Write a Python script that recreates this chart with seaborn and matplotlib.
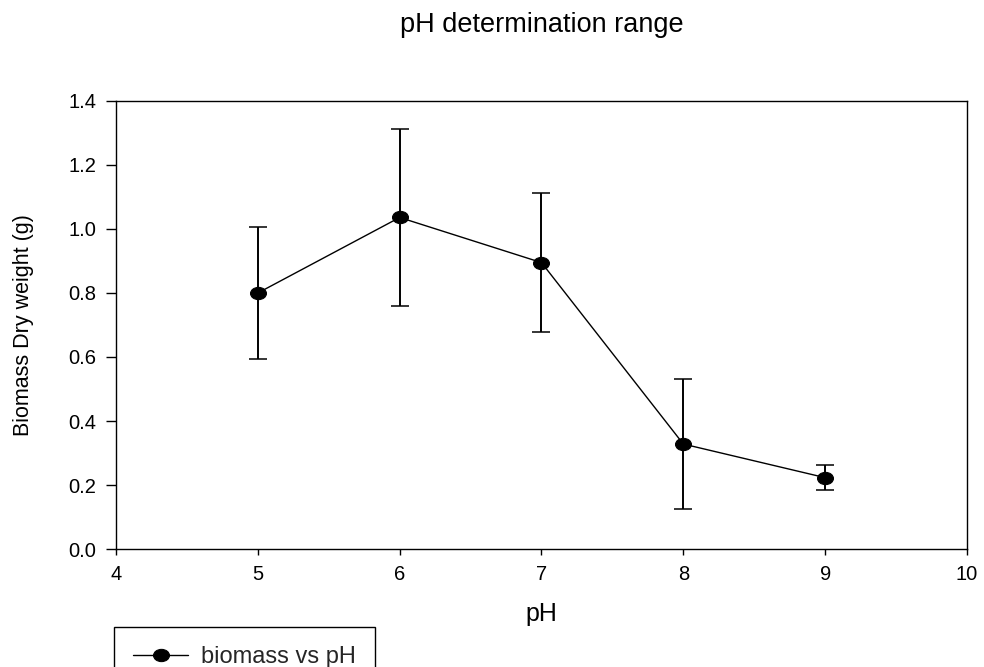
import matplotlib
matplotlib.use("Agg")
import matplotlib.pyplot as plt
import seaborn as sns
import pandas as pd
from matplotlib.path import Path
from matplotlib.transforms import Affine2D

# ---- data ----
ph = [5, 6, 7, 8, 9]
biomass = [0.800, 1.036, 0.895, 0.328, 0.223]
err = [0.206, 0.277, 0.218, 0.204, 0.040]
series_label = "biomass vs pH"
title = "pH determination range"
xlabel = "pH"
ylabel = "Biomass Dry weight (g)"
xticks = [4, 5, 6, 7, 8, 9, 10]
yticks = [0.0, 0.2, 0.4, 0.6, 0.8, 1.0, 1.2, 1.4]

df = pd.DataFrame({"pH": ph, "biomass": biomass})

sns.set_theme(style="ticks")
plt.rcParams["font.family"] = ["Liberation Sans", "DejaVu Sans"]
plt.rcParams["axes.edgecolor"] = "black"
plt.rcParams["axes.linewidth"] = 1.0

fig = plt.figure(figsize=(9.84, 6.67), dpi=100)
ax = fig.add_axes([0.1179, 0.1769, 0.9827 - 0.1179, 0.8486 - 0.1769])

ellipse = Path.unit_circle().transformed(Affine2D().scale(1.3, 1.0))

ax.errorbar(ph, biomass, yerr=err, fmt="none", ecolor="black",
            elinewidth=1.4, capsize=6.8, capthick=1.1, zorder=2)
sns.lineplot(data=df, x="pH", y="biomass", ax=ax, color="black",
             linewidth=1.0, marker=ellipse, markersize=11.5,
             markerfacecolor="black", markeredgecolor="black",
             label=series_label, zorder=3)

ax.set_xlim(4, 10)
ax.set_ylim(0, 1.4)
ax.set_xticks(xticks)
ax.set_xticklabels([str(t) for t in xticks])
ax.set_yticks(yticks)
ax.set_yticklabels([f"{t:.1f}" for t in yticks])
for s in ax.spines.values():
    s.set_visible(True)
    s.set_color("black")
    s.set_linewidth(1.0)

ax.tick_params(axis="y", direction="out", length=7.2, width=1.0, pad=7,
               labelsize=14.5, colors="black", right=False)
ax.tick_params(axis="x", direction="out", length=4.3, width=1.0, pad=7,
               labelsize=14.5, colors="black", top=False)

ax.set_xlabel(xlabel, fontsize=18, labelpad=13, color="black")
ax.set_ylabel(ylabel, fontsize=15.5, labelpad=25, color="black")
ax.set_title(title, fontsize=19.5, pad=50, color="black")

leg = ax.legend(loc="upper left", bbox_to_anchor=(114 / 984, 1 - 627 / 667),
                bbox_transform=fig.transFigure, fontsize=17, frameon=True,
                fancybox=False, edgecolor="black", framealpha=1,
                handlelength=2.35, handletextpad=0.55, borderpad=0.8,
                borderaxespad=0)
leg.get_frame().set_linewidth(1.0)

fig.savefig("out.png", dpi=100, facecolor="white")
